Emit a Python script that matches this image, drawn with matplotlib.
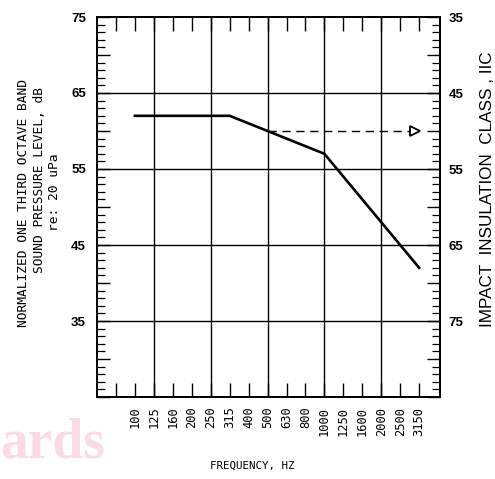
import matplotlib

matplotlib.use("Agg")
import matplotlib.pyplot as plt
from matplotlib.ticker import FixedLocator, MultipleLocator, FuncFormatter

# one-third octave bands (Hz); an unlabeled 80 Hz tick sits left of 100
bands = ["100", "125", "160", "200", "250", "315", "400", "500", "630",
         "800", "1000", "1250", "1600", "2000", "2500", "3150"]
tick_bands = ["80"] + bands
grid_bands = ["125", "250", "500", "1000", "2000"]

# reference contour, normalized SPL dB
ref_curve = [62, 62, 62, 62, 62, 62, 61, 60, 59, 58, 57, 54, 51, 48, 45, 42]

spl_labels = [75, 65, 55, 45, 35]
spl_grid = [35, 45, 55, 65]
iic_labels = [35, 45, 55, 65, 75]

# IIC read-off at 500 Hz
iic_band = "500"
iic_value = 50
arrow_end_band = "3150"

MONO = "DejaVu Sans Mono"
SANS = "Liberation Sans"

fig = plt.figure(figsize=(4.95, 4.79), dpi=100)
ax = fig.add_axes([97 / 495, 1 - 397 / 479, 343 / 495, 380 / 479])

xpos = {b: i for i, b in enumerate(bands)}
xpos["80"] = -1

ax.set_xlim(-2.0, 16.1)
ax.set_ylim(25, 75)

for b in grid_bands:
    ax.axvline(xpos[b], color="black", lw=1.0)
for v in spl_grid:
    ax.axhline(v, color="black", lw=1.0)

ax.plot([xpos[b] for b in bands], ref_curve, color="black", lw=1.9,
        solid_joinstyle="miter")

# x ticks
ax.xaxis.set_major_locator(FixedLocator([xpos[b] for b in tick_bands]))
ax.set_xticklabels([""] + bands, rotation=90, family=MONO, fontsize=8.7)
ax.tick_params(axis="x", direction="in", top=True, bottom=True,
               length=10, width=1.0, pad=7)

# left axis ticks
ax.yaxis.set_major_locator(MultipleLocator(5))
ax.yaxis.set_minor_locator(MultipleLocator(1))
ax.yaxis.set_major_formatter(
    FuncFormatter(lambda v, p: f"{int(v)}" if int(v) in spl_labels else ""))
ax.tick_params(axis="y", which="major", direction="in", length=9.5,
               width=1.0, pad=8)
ax.tick_params(axis="y", which="minor", direction="in", length=5.5, width=0.9)
for t in ax.get_yticklabels():
    t.set_family(SANS)
    t.set_fontweight("bold")
    t.set_fontsize(9.5)

for s in ax.spines.values():
    s.set_linewidth(1.3)

# right axis: IIC
ax2 = ax.twinx()
ax2.set_ylim(110 - 25, 110 - 75)
ax2.yaxis.set_major_locator(MultipleLocator(5))
ax2.yaxis.set_minor_locator(MultipleLocator(1))
ax2.yaxis.set_major_formatter(
    FuncFormatter(lambda v, p: f"{int(v)}" if int(v) in iic_labels else ""))
ax2.tick_params(axis="y", which="major", direction="in", length=9.5,
                width=1.0, pad=6)
ax2.tick_params(axis="y", which="minor", direction="in", length=5.5, width=0.9)
for t in ax2.get_yticklabels():
    t.set_family(SANS)
    t.set_fontweight("bold")
    t.set_fontsize(9.5)
for s in ax2.spines.values():
    s.set_linewidth(1.3)

ax2.plot([xpos[iic_band], xpos[arrow_end_band] - 0.3], [iic_value, iic_value],
         color="black", lw=1.0, dashes=(6, 4))
ax2.plot([xpos[arrow_end_band] - 0.2], [iic_value], marker=">", ms=7,
         mfc="white", mec="black", mew=1.3, ls="none")

# axis titles
fig.text(24 / 495, 1 - 203 / 479, "NORMALIZED ONE THIRD OCTAVE BAND",
         rotation=90, ha="center", va="center", family=MONO, fontsize=9.3)
fig.text(40 / 495, 1 - 180 / 479, "SOUND PRESSURE LEVEL, dB",
         rotation=90, ha="center", va="center", family=MONO, fontsize=9.3)
fig.text(55 / 495, 1 - 192 / 479, "re: 20 uPa",
         rotation=90, ha="center", va="center", family=MONO, fontsize=9.3)
fig.text(488 / 495, 1 - 189 / 479, "IMPACT  INSULATION  CLASS , IIC",
         rotation=90, ha="center", va="center", family=SANS, fontsize=12.3)
fig.text(252 / 495, 1 - 466 / 479, "FREQUENCY, HZ",
         ha="center", va="center", family=MONO, fontsize=7.8)

# scan watermark
fig.text(0.0, 1 - 444 / 479, "ards", ha="left", va="center",
         family="Liberation Serif", fontweight="bold", fontsize=40,
         color="#f8dbe3", zorder=0)

fig.savefig("out.png", dpi=100)
